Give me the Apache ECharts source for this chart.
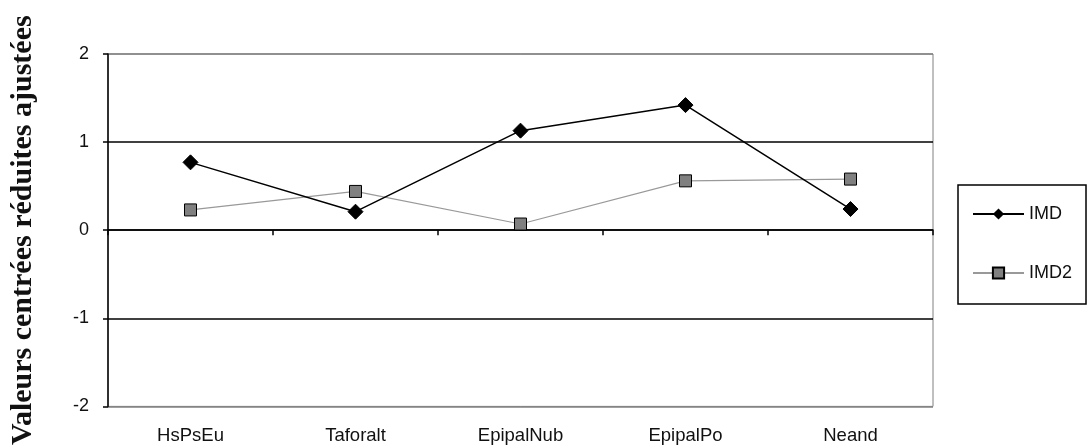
<!DOCTYPE html>
<html>
<head>
<meta charset="utf-8">
<script src="https://cdn.jsdelivr.net/npm/echarts@6/dist/echarts.min.js"></script>
<style>html,body{margin:0;padding:0;background:#fff}#c{width:1088px;height:448px}</style>
</head>
<body>
<div id="c"></div>
<script>
const categories = ['HsPsEu', 'Taforalt', 'EpipalNub', 'EpipalPo', 'Neand'];
const imd = [0.77, 0.21, 1.13, 1.42, 0.24];
const imd2 = [0.23, 0.44, 0.07, 0.56, 0.58];
const yTicks = [-2, -1, 0, 1, 2];
const yTitle = 'Valeurs centrées réduites ajustées';

const chart = echarts.init(document.getElementById('c'), null, {renderer: 'canvas'});
const sans = '"Liberation Sans", Arial, sans-serif';
chart.setOption({
  animation: false,
  backgroundColor: '#fff',
  grid: {left: 103, right: 155, top: 54, bottom: 40, show: true, borderColor: '#808080', borderWidth: 1},
  legend: {
    orient: 'vertical', left: 958, top: 185,
    padding: [20, 14, 22, 14], itemGap: 41, itemWidth: 51, itemHeight: 14,
    borderColor: '#000', borderWidth: 1.5,
    textStyle: {fontFamily: sans, fontSize: 18, color: '#111'},
    data: ['IMD', 'IMD2']
  },
  xAxis: [{
    type: 'category', data: categories, position: 'bottom',
    axisLine: {onZero: true, lineStyle: {color: '#000', width: 1.5}},
    axisTick: {show: true, length: 5, inside: false, lineStyle: {color: '#000', width: 1.5}},
    axisLabel: {show: false}, splitLine: {show: false}
  }, {
    type: 'category', data: categories, position: 'bottom',
    axisLine: {onZero: false, show: false},
    axisTick: {show: false},
    axisLabel: {show: true, margin: 20, fontFamily: sans, fontSize: 18.5, color: '#111'},
    splitLine: {show: false}
  }],
  yAxis: {
    type: 'value', min: yTicks[0], max: yTicks[yTicks.length - 1], interval: 1,
    name: yTitle, nameLocation: 'middle', nameGap: 70, nameRotate: 90,
    nameTextStyle: {fontFamily: '"Liberation Serif", "Times New Roman", serif', fontWeight: 'bold', fontSize: 30, color: '#111'},
    axisLine: {show: true, lineStyle: {color: '#000', width: 1.5}},
    axisTick: {show: true, length: 5, lineStyle: {color: '#000', width: 1.5}},
    axisLabel: {margin: 19, fontFamily: sans, fontSize: 18, color: '#111'},
    splitLine: {show: true, lineStyle: {color: ['#808080', '#000', '#000', '#000', '#808080'], width: 1.5}}
  },
  series: [{
    name: 'IMD', type: 'line', data: imd, xAxisIndex: 0,
    symbol: 'diamond', symbolSize: 15,
    lineStyle: {color: '#000', width: 1.5},
    itemStyle: {color: '#000', borderColor: '#000'},
    z: 3
  }, {
    name: 'IMD2', type: 'line', data: imd2, xAxisIndex: 0,
    symbol: 'rect', symbolSize: 12,
    lineStyle: {color: '#999', width: 1.2},
    itemStyle: {color: '#808080', borderColor: '#000', borderWidth: 1},
    z: 2
  }]
});
</script>
</body>
</html>
